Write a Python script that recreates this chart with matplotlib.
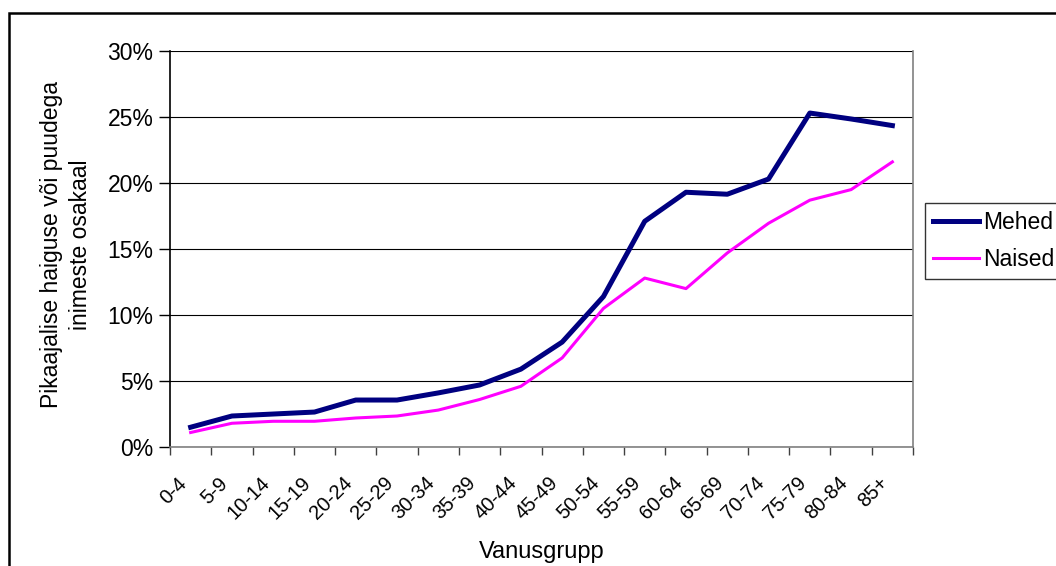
import matplotlib
matplotlib.use("Agg")
import matplotlib.pyplot as plt
import matplotlib.transforms as mtransforms
from matplotlib.patches import Rectangle
from matplotlib.ticker import FuncFormatter, MultipleLocator
import numpy as np

plt.rcParams['font.family'] = ['Liberation Sans', 'DejaVu Sans']

# age groups and shares (%)
groups = ['0-4', '5-9', '10-14', '15-19', '20-24', '25-29', '30-34', '35-39',
          '40-44', '45-49', '50-54', '55-59', '60-64', '65-69', '70-74',
          '75-79', '80-84', '85+']
mehed = [1.5, 2.35, 2.5, 2.65, 3.56, 3.56, 4.1, 4.7, 5.9, 7.95, 11.4, 17.1,
         19.3, 19.15, 20.3, 25.3, 24.85, 24.35]
naised = [1.1, 1.8, 1.95, 1.95, 2.2, 2.35, 2.8, 3.6, 4.6, 6.75, 10.5, 12.8,
          12.0, 14.7, 16.95, 18.7, 19.5, 21.6]

fig = plt.figure(figsize=(10.56, 5.66), dpi=100)
ax = fig.add_axes([0.161, 0.2102, 0.7036, 0.6997])

# outer chart frame
fig.patches.append(Rectangle((9 / 1056, -0.1), 1.2, 1 - 13 / 566 + 0.1,
                             transform=fig.transFigure, fill=False,
                             edgecolor='black', linewidth=1.8))

x = np.arange(len(groups))
ax.plot(x, mehed, color='#000080', linewidth=3.6, label='Mehed')
ax.plot(x, naised, color='#FF00FF', linewidth=2.2, label='Naised')

ax.set_xlim(-0.5, len(groups) - 0.5)
ax.set_ylim(0, 30)
ax.yaxis.set_major_locator(MultipleLocator(5))
ax.yaxis.set_major_formatter(FuncFormatter(lambda v, p: f'{v:.0f}%'))
ax.grid(axis='y', color='black', linewidth=0.8)
ax.set_axisbelow(True)

# category ticks between groups, labels at centres
ax.set_xticks(np.arange(len(groups) + 1) - 0.5)
ax.set_xticklabels([])
ax.set_xticks(x, minor=True)
ax.set_xticklabels(groups, minor=True, rotation=45, ha='right', va='top',
                   fontsize=14.5)
shift = mtransforms.ScaledTranslation(-9 / 100, 0, fig.dpi_scale_trans)
for lab in ax.get_xticklabels(minor=True):
    lab.set_transform(lab.get_transform() + shift)
ax.tick_params(axis='x', which='minor', length=0, pad=19)
ax.tick_params(axis='x', which='major', length=6, width=1, color='#404040',
               direction='out')
ax.tick_params(axis='y', length=8, width=1, labelsize=16.5, pad=4,
               color='black')

ax.spines['top'].set_visible(False)
ax.spines['left'].set_color('black')
ax.spines['right'].set_color('#808080')
ax.spines['bottom'].set_color('#808080')
for s in ax.spines.values():
    s.set_linewidth(1.2)

fig.text(542 / 1056, 1 - 552 / 566, 'Vanusgrupp', fontsize=17,
         ha='center', va='center')
fig.text(66 / 1056, 1 - 245 / 566,
         'Pikaajalise haiguse või puudega\ninimeste osakaal',
         fontsize=16.5, rotation=90, ha='center', va='center',
         multialignment='center', linespacing=1.3)

leg = ax.legend(loc='upper left', bbox_to_anchor=(925 / 1056, 1 - 203 / 566),
                bbox_transform=fig.transFigure, fontsize=16.5, frameon=True,
                fancybox=False, edgecolor='black', handlelength=2.0,
                handletextpad=0.2, borderaxespad=0, borderpad=0.35,
                labelspacing=0.6)
leg.get_frame().set_linewidth(1.0)

fig.savefig('out.png', dpi=100)
